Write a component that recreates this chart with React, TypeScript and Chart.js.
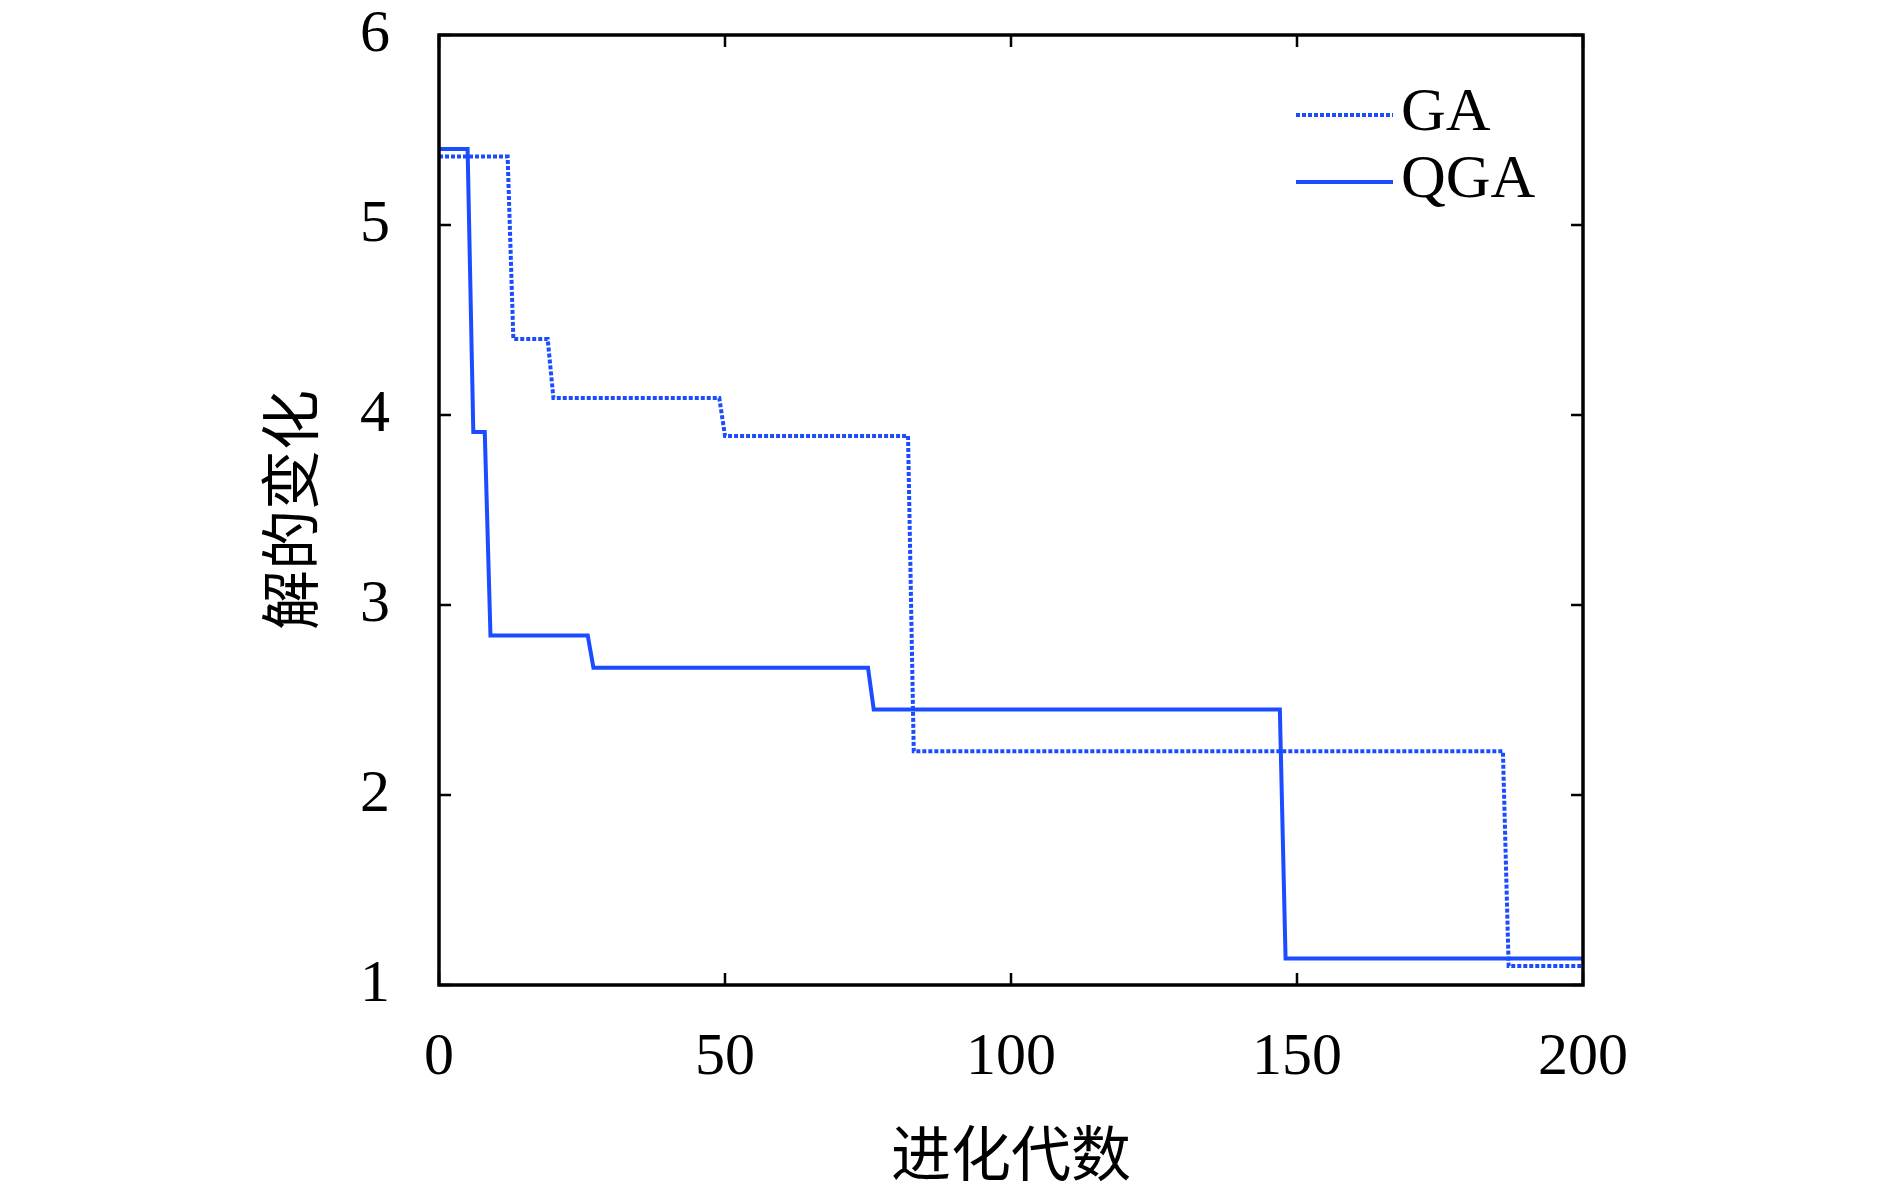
import React, { useEffect, useRef } from 'react';
import { Chart, registerables } from 'chart.js';

Chart.register(...registerables);

// generations where a level starts / ends
const gaGen = [0, 12, 13, 19, 20, 49, 50, 82, 83, 186, 187, 200];
const gaVal = [5.36, 5.36, 4.4, 4.4, 4.09, 4.09, 3.89, 3.89, 2.23, 2.23, 1.1, 1.1];

const qgaGen = [0, 5, 6, 8, 9, 26, 27, 75, 76, 147, 148, 200];
const qgaVal = [5.4, 5.4, 3.91, 3.91, 2.84, 2.84, 2.67, 2.67, 2.45, 2.45, 1.14, 1.14];

const seriesNames = ['GA', 'QGA'];
const xTicks = [0, 50, 100, 150, 200];
const yTicks = [1, 2, 3, 4, 5, 6];

const BLUE = '#1c4cff';
const SERIF = '"Liberation Serif", "Times New Roman", serif';
const CJK = '"Noto Sans CJK SC", sans-serif';

const toPoints = (xs: number[], ys: number[]) => xs.map((x, i) => ({ x, y: ys[i] }));

// box frame with inward tick marks on all four sides
const framePlugin = {
  id: 'frame',
  afterDraw(chart: any) {
    const { ctx, chartArea } = chart;
    const { left, right, top, bottom } = chartArea;
    const sx = chart.scales.x;
    const sy = chart.scales.y;
    const len = 12;
    ctx.save();
    ctx.strokeStyle = '#000';
    ctx.lineWidth = 2.5;
    ctx.beginPath();
    sx.ticks.forEach((t: any) => {
      const px = sx.getPixelForValue(t.value);
      ctx.moveTo(px, bottom);
      ctx.lineTo(px, bottom - len);
      ctx.moveTo(px, top);
      ctx.lineTo(px, top + len);
    });
    sy.ticks.forEach((t: any) => {
      const py = sy.getPixelForValue(t.value);
      ctx.moveTo(left, py);
      ctx.lineTo(left + len, py);
      ctx.moveTo(right, py);
      ctx.lineTo(right - len, py);
    });
    ctx.stroke();
    ctx.lineWidth = 3.5;
    ctx.strokeRect(left, top, right - left, bottom - top);
    ctx.restore();
  },
};

// legend in the top-right corner, without a box
const legendPlugin = {
  id: 'cornerLegend',
  afterDraw(chart: any) {
    const { ctx, chartArea } = chart;
    const x0 = chartArea.right - 287;
    const x1 = chartArea.right - 190;
    ctx.save();
    ctx.font = `62px ${SERIF}`;
    ctx.fillStyle = '#000';
    ctx.textAlign = 'left';
    ctx.textBaseline = 'middle';
    chart.data.datasets.forEach((ds: any, i: number) => {
      const y = chartArea.top + 80 + i * 67;
      ctx.strokeStyle = ds.borderColor;
      ctx.lineWidth = ds.borderWidth;
      ctx.setLineDash(ds.borderDash || []);
      ctx.beginPath();
      ctx.moveTo(x0, y);
      ctx.lineTo(x1, y);
      ctx.stroke();
      ctx.setLineDash([]);
      ctx.fillText(ds.label, x1 + 8, y - 1);
    });
    ctx.restore();
  },
};

const App: React.FC = () => {
  const chartRef = useRef<HTMLCanvasElement>(null);
  const chartInstance = useRef<Chart | null>(null);

  useEffect(() => {
    document.body.style.margin = '0';
    if (!chartRef.current) return;
    if (chartInstance.current) chartInstance.current.destroy();

    const ctx = chartRef.current.getContext('2d');
    if (!ctx) return;

    chartInstance.current = new Chart(ctx, {
      type: 'line',
      data: {
        datasets: [
          {
            label: seriesNames[0],
            data: toPoints(gaGen, gaVal),
            borderColor: BLUE,
            borderWidth: 4,
            borderDash: [4, 2],
            pointRadius: 0,
            tension: 0,
            fill: false,
          },
          {
            label: seriesNames[1],
            data: toPoints(qgaGen, qgaVal),
            borderColor: BLUE,
            borderWidth: 4,
            pointRadius: 0,
            tension: 0,
            fill: false,
          },
        ],
      },
      options: {
        animation: false,
        responsive: true,
        maintainAspectRatio: false,
        layout: { padding: { left: 260, right: 307, top: 35, bottom: 3 } },
        plugins: {
          legend: { display: false },
          tooltip: { enabled: false },
        },
        scales: {
          x: {
            type: 'linear',
            min: 0,
            max: 200,
            afterBuildTicks: (axis: any) => {
              axis.ticks = xTicks.map((v) => ({ value: v }));
            },
            afterFit: (axis: any) => {
              axis.height = 198;
            },
            // tick marks hidden; tickLength only spaces the labels
            grid: { display: false, drawTicks: true, tickLength: 43 },
            border: { display: false },
            ticks: {
              padding: 0,
              maxRotation: 0,
              color: '#000',
              font: { family: SERIF, size: 60, lineHeight: 1 },
            },
            title: {
              display: true,
              text: '进化代数',
              color: '#000',
              padding: 0,
              font: { family: CJK, size: 60, lineHeight: 1 },
            },
          },
          y: {
            type: 'linear',
            min: 1,
            max: 6,
            afterBuildTicks: (axis: any) => {
              axis.ticks = yTicks.map((v) => ({ value: v }));
            },
            afterFit: (axis: any) => {
              axis.width = 179;
            },
            grid: { display: false, drawTicks: true, tickLength: 49 },
            border: { display: false },
            ticks: {
              padding: 0,
              color: '#000',
              font: { family: SERIF, size: 60, lineHeight: 1 },
            },
            title: {
              display: true,
              text: '解的变化',
              color: '#000',
              padding: 0,
              font: { family: CJK, size: 60, lineHeight: 1 },
            },
          },
        },
      },
      plugins: [framePlugin, legendPlugin],
    });

    return () => {
      if (chartInstance.current) {
        chartInstance.current.destroy();
        chartInstance.current = null;
      }
    };
  }, []);

  return (
    <div style={{ width: 1890, height: 1186, position: 'relative', background: '#fff' }}>
      <canvas ref={chartRef} />
    </div>
  );
};

export default App;
